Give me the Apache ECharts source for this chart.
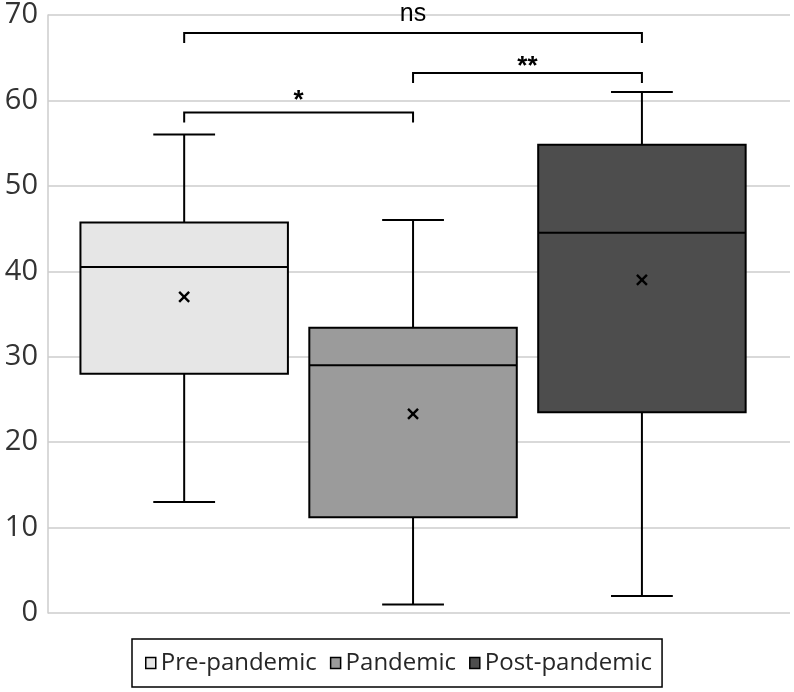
<!DOCTYPE html>
<html>
<head>
<meta charset="utf-8">
<script src="https://cdn.jsdelivr.net/npm/echarts@6/dist/echarts.min.js"></script>
<style>
  html, body { margin: 0; padding: 0; background: #fff; }
  #main { width: 794px; height: 692px; }
</style>
</head>
<body>
<div id="main"></div>
<script>
// groups and their box stats: [position, min, Q1, median, Q3, max, mean]
var groups = ['Pre-pandemic', 'Pandemic', 'Post-pandemic'];
var preStats = [1, 13, 28.0, 40.5, 45.7, 56, 37.0];
var pandemicStats = [2, 1, 11.2, 29.0, 33.4, 46, 23.3];
var postStats = [3, 2, 23.5, 44.5, 54.8, 61, 39.0];
var yTicks = [0, 10, 20, 30, 40, 50, 60, 70];

// significance brackets: [from group, to group, height]
var brackets = [[1, 3, 67.9], [2, 3, 63.2], [1, 2, 58.6]];
var bracketLabels = ['ns', '**', '*'];

var fills = ['#e6e6e6', '#9b9b9b', '#4d4d4d'];
var labelOffsets = [-19, -6, -12];
var labelFonts = ['25px "Liberation Sans", Arial, sans-serif', 'bold 26px "Liberation Sans", Arial, sans-serif', 'bold 26px "Liberation Sans", Arial, sans-serif'];

var myChart = echarts.init(document.getElementById('main'));

function boxItem(color) {
    return function (params, api) {
        var x = api.value(0);
        var lo = api.coord([x, api.value(1)]);
        var q1 = api.coord([x, api.value(2)]);
        var med = api.coord([x, api.value(3)]);
        var q3 = api.coord([x, api.value(4)]);
        var hi = api.coord([x, api.value(5)]);
        var mean = api.coord([x, api.value(6)]);
        var unit = api.size([1, 0])[0];
        var half = unit * 0.9065 / 2;
        var cap = unit * 0.27 / 2;
        var cx = lo[0];
        var line = { stroke: '#000', lineWidth: 2 };
        var seg = function (x1, y1, x2, y2, st) {
            return { type: 'line', shape: { x1: x1, y1: y1, x2: x2, y2: y2 }, style: st || line };
        };
        return {
            type: 'group',
            children: [
                seg(cx, q3[1], cx, hi[1]),
                seg(cx - cap, hi[1], cx + cap, hi[1]),
                seg(cx, q1[1], cx, lo[1]),
                seg(cx - cap, lo[1], cx + cap, lo[1]),
                {
                    type: 'rect',
                    shape: { x: cx - half, y: q3[1], width: half * 2, height: q1[1] - q3[1] },
                    style: { fill: color, stroke: '#000', lineWidth: 2 }
                },
                seg(cx - half, med[1], cx + half, med[1]),
                seg(mean[0] - 5, mean[1] - 5, mean[0] + 5, mean[1] + 5, { stroke: '#000', lineWidth: 2.4 }),
                seg(mean[0] - 5, mean[1] + 5, mean[0] + 5, mean[1] - 5, { stroke: '#000', lineWidth: 2.4 })
            ]
        };
    };
}

function bracketItem(params, api) {
    var a = api.coord([api.value(0), api.value(2)]);
    var b = api.coord([api.value(1), api.value(2)]);
    var tick = 10;
    return {
        type: 'group',
        children: [{
            type: 'polyline',
            shape: { points: [[a[0], a[1] + tick], [a[0], a[1]], [b[0], b[1]], [b[0], b[1] + tick]] },
            style: { stroke: '#000', lineWidth: 2, fill: null }
        }, {
            type: 'text',
            x: (a[0] + b[0]) / 2,
            y: a[1] + labelOffsets[params.dataIndex],
            style: {
                text: bracketLabels[params.dataIndex],
                fill: '#000',
                font: labelFonts[params.dataIndex],
                align: 'center',
                verticalAlign: 'middle'
            }
        }]
    };
}

var statsList = [preStats, pandemicStats, postStats];
var series = groups.map(function (name, i) {
    return {
        name: name,
        type: 'custom',
        renderItem: boxItem(fills[i]),
        itemStyle: { color: fills[i] },
        encode: { x: 0, y: [1, 2, 3, 4, 5, 6] },
        clip: false,
        data: [statsList[i]]
    };
});
series.push({
    name: 'brackets',
    type: 'custom',
    renderItem: bracketItem,
    encode: { x: [0, 1], y: 2 },
    clip: false,
    silent: true,
    data: brackets
});

myChart.setOption({
    animation: false,
    backgroundColor: '#fff',
    textStyle: { fontFamily: '"Open Sans", "Noto Sans", sans-serif' },
    grid: { left: 48, right: 4, top: 15, bottom: 79 },
    legend: {
        left: 132,
        top: 639,
        orient: 'horizontal',
        padding: [11, 10, 11, 13],
        borderColor: '#000',
        borderWidth: 1.5,
        itemWidth: 10,
        itemHeight: 11,
        itemGap: 13,
        selectedMode: false,
        textStyle: { fontSize: 24, color: '#262626', lineHeight: 26, fontFamily: '"Open Sans", sans-serif' },
        data: groups.map(function (name, i) {
            return { name: name, icon: 'rect', itemStyle: { color: fills[i], borderColor: '#000', borderWidth: 1.5 } };
        })
    },
    xAxis: {
        type: 'value',
        min: 0.405,
        max: 3.647,
        show: false
    },
    yAxis: {
        type: 'value',
        min: yTicks[0],
        max: yTicks[yTicks.length - 1],
        interval: 10,
        axisLine: { show: true, lineStyle: { color: '#cccccc', width: 1.5 } },
        axisTick: { show: false },
        axisLabel: { fontSize: 29, color: '#333', margin: 10 },
        splitLine: { show: true, lineStyle: { color: '#cccccc', width: 1.5 } }
    },
    series: series
});
</script>
</body>
</html>
